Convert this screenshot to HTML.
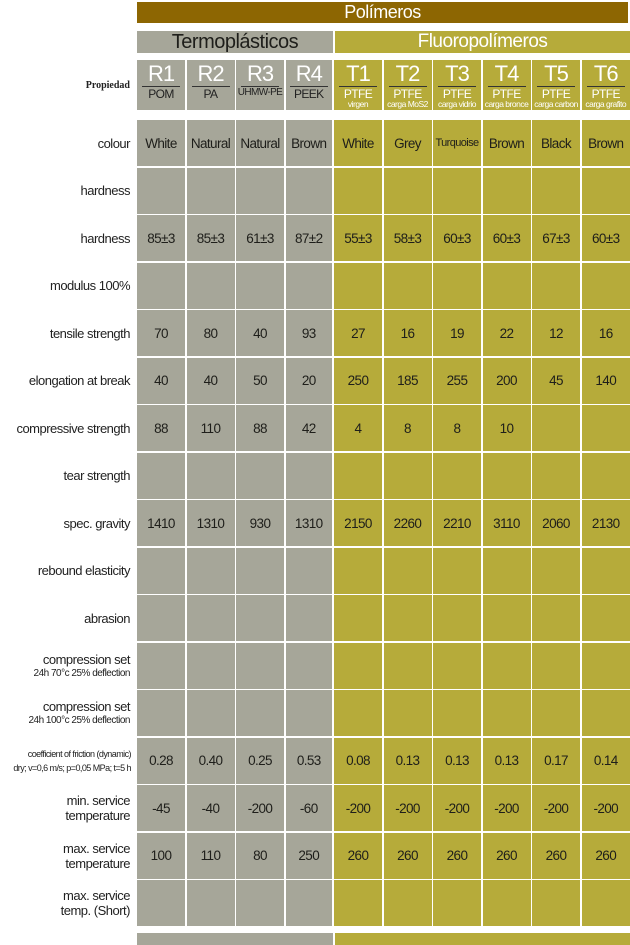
<!DOCTYPE html>
<html><head><meta charset="utf-8"><style>
*{margin:0;padding:0;box-sizing:border-box}
body{width:630px;height:945px;background:#fff;position:relative;overflow:hidden;font-family:"Liberation Sans",Arial,sans-serif;color:#1e1e1a}
.abs{position:absolute}
.bar{position:absolute;color:#fff;text-align:center;font-size:18px;line-height:21px;letter-spacing:-0.5px}
.row{position:absolute;left:0;width:630px;height:46px;display:flex}
.lab{width:137px;padding-right:7px;text-align:right;font-size:13px;letter-spacing:-0.5px;display:flex;flex-direction:column;justify-content:center;align-items:flex-end;line-height:15px;color:#222;white-space:nowrap}
.c{height:46px;margin-right:1.5px;display:flex;align-items:center;justify-content:center;font-size:13.5px;letter-spacing:-0.6px;background:#a6a699;white-space:nowrap;overflow:hidden}
.g1{width:48px}.g4{width:46.5px;margin-right:2px}
.y{background:#b6ab3a;width:48px}
.y6{width:48px;margin-right:0;flex:1}
.hd{flex-direction:column;justify-content:flex-start;padding-top:3px;color:#fff;line-height:1}
.hd b{font-weight:normal;font-size:22px;display:block;border-bottom:1.5px solid #333;width:38px;text-align:center;padding-bottom:1px;letter-spacing:-1px}
.hd i{font-style:normal;font-size:12px;display:block;color:#222;margin-top:1px}
.y.hd i{color:#fff}
.hd s{text-decoration:none;font-size:8.5px;letter-spacing:-0.5px;color:#fff;display:block;white-space:nowrap}
</style></head><body>
<div class="bar" style="left:137px;top:2px;width:491px;height:21px;background:#8d6602">Polímeros</div>
<div class="bar" style="left:137px;top:31px;width:196px;height:22px;background:#a6a699;color:#1e1e1a;font-size:20px;line-height:22px">Termoplásticos</div>
<div class="bar" style="left:335px;top:31px;width:295px;height:22px;background:#b6ab3a;font-size:19px;line-height:22px">Fluoropolímeros</div>

<div class="row" style="top:60px;height:50px">
<div class="lab" style="font-family:'Liberation Serif',serif;font-weight:bold;font-size:10px;letter-spacing:0">Propiedad</div>
<div class="c g1 hd" style="height:50px"><b>R1</b><i>POM</i></div>
<div class="c g1 hd" style="height:50px"><b>R2</b><i>PA</i></div>
<div class="c g1 hd" style="height:50px"><b>R3</b><i style="font-size:10px">UHMW-PE</i></div>
<div class="c g1 g4 hd" style="height:50px"><b>R4</b><i>PEEK</i></div>
<div class="c y hd" style="height:50px"><b>T1</b><i>PTFE</i><s>virgen</s></div>
<div class="c y hd" style="height:50px"><b>T2</b><i>PTFE</i><s>carga MoS2</s></div>
<div class="c y hd" style="height:50px"><b>T3</b><i>PTFE</i><s>carga vidrio</s></div>
<div class="c y hd" style="height:50px"><b>T4</b><i>PTFE</i><s>carga bronce</s></div>
<div class="c y hd" style="height:50px"><b>T5</b><i>PTFE</i><s>carga carbon</s></div>
<div class="c y y6 hd" style="height:50px"><b>T6</b><i>PTFE</i><s>carga grafito</s></div>
</div>

<div class="row" style="top:120px"><div class="lab">colour</div><div class="c g1">White</div><div class="c g1">Natural</div><div class="c g1">Natural</div><div class="c g1 g4">Brown</div><div class="c y">White</div><div class="c y">Grey</div><div class="c y" style="font-size:11px">Turquoise</div><div class="c y">Brown</div><div class="c y">Black</div><div class="c y y6">Brown</div></div>
<div class="row" style="top:167.5px"><div class="lab">hardness</div><div class="c g1"></div><div class="c g1"></div><div class="c g1"></div><div class="c g1 g4"></div><div class="c y"></div><div class="c y"></div><div class="c y"></div><div class="c y"></div><div class="c y"></div><div class="c y y6"></div></div>
<div class="row" style="top:215px"><div class="lab">hardness</div><div class="c g1">85±3</div><div class="c g1">85±3</div><div class="c g1">61±3</div><div class="c g1 g4">87±2</div><div class="c y">55±3</div><div class="c y">58±3</div><div class="c y">60±3</div><div class="c y">60±3</div><div class="c y">67±3</div><div class="c y y6">60±3</div></div>
<div class="row" style="top:262.5px"><div class="lab">modulus 100%</div><div class="c g1"></div><div class="c g1"></div><div class="c g1"></div><div class="c g1 g4"></div><div class="c y"></div><div class="c y"></div><div class="c y"></div><div class="c y"></div><div class="c y"></div><div class="c y y6"></div></div>
<div class="row" style="top:310px"><div class="lab">tensile strength</div><div class="c g1">70</div><div class="c g1">80</div><div class="c g1">40</div><div class="c g1 g4">93</div><div class="c y">27</div><div class="c y">16</div><div class="c y">19</div><div class="c y">22</div><div class="c y">12</div><div class="c y y6">16</div></div>
<div class="row" style="top:357.5px"><div class="lab">elongation at break</div><div class="c g1">40</div><div class="c g1">40</div><div class="c g1">50</div><div class="c g1 g4">20</div><div class="c y">250</div><div class="c y">185</div><div class="c y">255</div><div class="c y">200</div><div class="c y">45</div><div class="c y y6">140</div></div>
<div class="row" style="top:405px"><div class="lab">compressive strength</div><div class="c g1">88</div><div class="c g1">110</div><div class="c g1">88</div><div class="c g1 g4">42</div><div class="c y">4</div><div class="c y">8</div><div class="c y">8</div><div class="c y">10</div><div class="c y"></div><div class="c y y6"></div></div>
<div class="row" style="top:452.5px"><div class="lab">tear strength</div><div class="c g1"></div><div class="c g1"></div><div class="c g1"></div><div class="c g1 g4"></div><div class="c y"></div><div class="c y"></div><div class="c y"></div><div class="c y"></div><div class="c y"></div><div class="c y y6"></div></div>
<div class="row" style="top:500px"><div class="lab">spec. gravity</div><div class="c g1">1410</div><div class="c g1">1310</div><div class="c g1">930</div><div class="c g1 g4">1310</div><div class="c y">2150</div><div class="c y">2260</div><div class="c y">2210</div><div class="c y">3110</div><div class="c y">2060</div><div class="c y y6">2130</div></div>
<div class="row" style="top:547.5px"><div class="lab">rebound elasticity</div><div class="c g1"></div><div class="c g1"></div><div class="c g1"></div><div class="c g1 g4"></div><div class="c y"></div><div class="c y"></div><div class="c y"></div><div class="c y"></div><div class="c y"></div><div class="c y y6"></div></div>
<div class="row" style="top:595px"><div class="lab">abrasion</div><div class="c g1"></div><div class="c g1"></div><div class="c g1"></div><div class="c g1 g4"></div><div class="c y"></div><div class="c y"></div><div class="c y"></div><div class="c y"></div><div class="c y"></div><div class="c y y6"></div></div>
<div class="row" style="top:642.5px"><div class="lab">compression set<span style="font-size:10px;line-height:13px">24h 70°c 25% deflection</span></div><div class="c g1"></div><div class="c g1"></div><div class="c g1"></div><div class="c g1 g4"></div><div class="c y"></div><div class="c y"></div><div class="c y"></div><div class="c y"></div><div class="c y"></div><div class="c y y6"></div></div>
<div class="row" style="top:690px"><div class="lab">compression set<span style="font-size:10px;line-height:13px">24h 100°c 25% deflection</span></div><div class="c g1"></div><div class="c g1"></div><div class="c g1"></div><div class="c g1 g4"></div><div class="c y"></div><div class="c y"></div><div class="c y"></div><div class="c y"></div><div class="c y"></div><div class="c y y6"></div></div>
<div class="row" style="top:737.5px"><div class="lab" style="font-size:9px;letter-spacing:-0.55px;line-height:14px;padding-right:6px">coefficient of friction (dynamic)<span>dry; v=0,6 m/s; p=0,05 MPa; t=5 h</span></div><div class="c g1">0.28</div><div class="c g1">0.40</div><div class="c g1">0.25</div><div class="c g1 g4">0.53</div><div class="c y">0.08</div><div class="c y">0.13</div><div class="c y">0.13</div><div class="c y">0.13</div><div class="c y">0.17</div><div class="c y y6">0.14</div></div>
<div class="row" style="top:785px"><div class="lab">min. service<span>temperature</span></div><div class="c g1">-45</div><div class="c g1">-40</div><div class="c g1">-200</div><div class="c g1 g4">-60</div><div class="c y">-200</div><div class="c y">-200</div><div class="c y">-200</div><div class="c y">-200</div><div class="c y">-200</div><div class="c y y6">-200</div></div>
<div class="row" style="top:832.5px"><div class="lab">max. service<span>temperature</span></div><div class="c g1">100</div><div class="c g1">110</div><div class="c g1">80</div><div class="c g1 g4">250</div><div class="c y">260</div><div class="c y">260</div><div class="c y">260</div><div class="c y">260</div><div class="c y">260</div><div class="c y y6">260</div></div>
<div class="row" style="top:880px"><div class="lab">max. service<span>temp. (Short)</span></div><div class="c g1"></div><div class="c g1"></div><div class="c g1"></div><div class="c g1 g4"></div><div class="c y"></div><div class="c y"></div><div class="c y"></div><div class="c y"></div><div class="c y"></div><div class="c y y6"></div></div>
<div class="abs" style="left:137px;top:933px;width:196px;height:12px;background:#a6a699"></div>
<div class="abs" style="left:335px;top:933px;width:295px;height:12px;background:#b6ab3a"></div>
</body></html>
